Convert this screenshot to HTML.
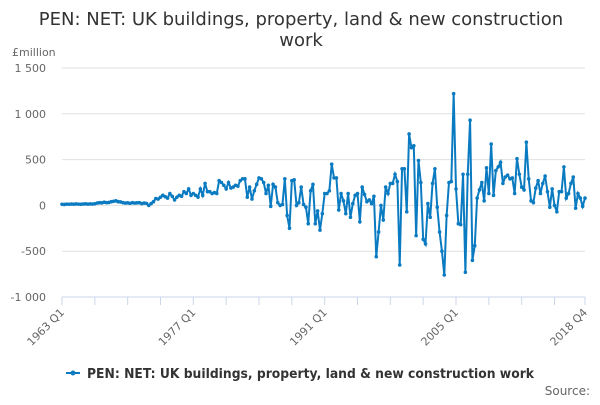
<!DOCTYPE html>
<html><head><meta charset="utf-8"><style>
body{margin:0;background:#fff;font-family:"Liberation Sans","DejaVu Sans",sans-serif}
svg text{font-family:"DejaVu Sans","Liberation Sans",sans-serif}
</style></head><body>
<svg id="c" width="600" height="400">
<text x="301" y="25" text-anchor="middle" font-size="18" fill="#333">PEN: NET: UK buildings, property, land &amp; new construction</text>
<text x="301" y="46" text-anchor="middle" font-size="18" fill="#333">work</text>
<text x="12" y="56" font-size="11" fill="#666">£million</text>
<g id="grid"></g><g id="xaxis"></g><g id="series"></g>
<g>
<line x1="66" y1="373" x2="80" y2="373" stroke="#0b7bc1" stroke-width="2"/>
<circle cx="73" cy="373" r="2.5" fill="#0b7bc1"/>
<text x="87" y="378" font-size="13" font-weight="bold" fill="#333" textLength="447" lengthAdjust="spacingAndGlyphs">PEN: NET: UK buildings, property, land &amp; new construction work</text>
</g>
<text x="590" y="395" text-anchor="end" font-size="12" fill="#666">Source:</text>
</svg>
<script>
const yTicks=[1500,1000,500,0,-500,-1000];
const yTickLabels=["1 500","1 000","500","0","-500","-1 000"];
const xLabelIdx=[0,56,112,168,223];
const xLabels=["1963 Q1","1977 Q1","1991 Q1","2005 Q1","2018 Q4"];
const values=[12,10,14,12,15,13,16,14,12,15,17,14,16,15,18,
25,30,28,35,30,32,40,45,50,40,38,
30,25,28,22,30,25,28,30,20,25,22,
0,20,40,75,70,90,110,95,80,130,100,60,90,110,100,150,130,180,110,
130,110,90,180,110,240,150,150,130,140,130,270,250,220,180,250,190,200,220,210,
270,290,290,90,200,70,160,230,300,290,250,130,220,-10,230,200,30,0,10,290,
-110,-250,270,280,0,30,200,10,-20,-200,160,230,-200,-60,-270,-90,130,
130,160,450,300,300,-50,130,50,-90,130,-130,20,110,130,-180,200,120,40,60,20,100,-560,-290,
0,-160,200,130,240,240,340,260,-650,400,400,-70,780,630,650,-330,490,250,-370,-420,20,
-130,240,400,-20,-290,-500,-760,-110,250,260,
1220,180,-200,-210,340,-730,340,930,-600,-440,80,170,250,50,410,130,670,110,380,420,
470,240,310,330,290,300,130,510,340,200,170,690,290,50,30,190,270,130,240,320,
150,-20,180,0,-70,150,150,420,80,130,240,310,-30,130,80,-10,80];
const NS="http://www.w3.org/2000/svg";
const X0=62,X1=585,Y0=297,Y1=68,VMIN=-1000,VMAX=1500;
function xs(i){return X0+(X1-X0)*i/(values.length-1);}
function ys(v){return Y0-(v-VMIN)/(VMAX-VMIN)*(Y0-Y1);}
function mk(t,a,p){const e=document.createElementNS(NS,t);for(const k in a)e.setAttribute(k,a[k]);p.appendChild(e);return e;}
const grid=document.getElementById('grid');
yTicks.forEach((v,k)=>{
 if(v!==VMIN){const l=mk('line',{x1:X0,x2:X1,y1:ys(v),y2:ys(v),stroke:'#e0e0e0'},grid);
 
 }
 const t=mk('text',{x:46,y:ys(v)+4,'text-anchor':'end','font-size':11,fill:'#666'},grid);
 t.textContent=yTickLabels[k];
 
 
});
const xa=document.getElementById('xaxis');
const ax=mk('line',{x1:X0,x2:X1,y1:Y0,y2:Y0,stroke:'#ccd6eb'},xa);


for(let i=0;i<values.length;i+=14){const tk=mk('line',{x1:xs(i),x2:xs(i),y1:Y0,y2:Y0+8,stroke:'#ccd6eb'},xa);
 
 }
const lt=mk('line',{x1:X1,x2:X1,y1:Y0,y2:Y0+8,stroke:'#ccd6eb'},xa);


xLabelIdx.forEach((i,k)=>{const x=xs(i),y=Y0+16;
 const t=mk('text',{x:x+3,y:y,'text-anchor':'end','font-size':11,fill:'#666',transform:`rotate(-45 ${x+3} ${y})`},xa);
 t.textContent=xLabels[k];
 
 });
const s=document.getElementById('series');
const path=mk('polyline',{points:values.map((v,i)=>xs(i)+','+ys(v)).join(' '),fill:'none',stroke:'#0b7bc1','stroke-width':2},s);


values.forEach((v,i)=>{const c=mk('circle',{cx:xs(i),cy:ys(v),r:1.8,fill:'#0b7bc1'},s);
 
 });
</script>
</body></html>
